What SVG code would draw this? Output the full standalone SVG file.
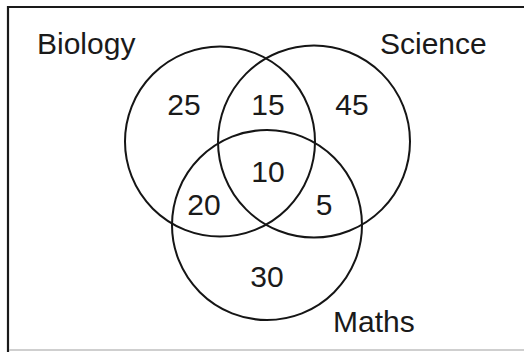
<svg xmlns="http://www.w3.org/2000/svg" width="524" height="352" viewBox="0 0 524 352">
<style>
.c{fill:none;stroke:#151515;stroke-width:2}
.t{font-family:"Liberation Sans",Arial,sans-serif;font-size:30px;fill:#1a1a1a}
.m{text-anchor:middle}
</style>
<rect width="524" height="352" fill="#fff"/>
<g id="frame">
<path d="M8,352 V7 H524" fill="none" stroke="#1a1a1a" stroke-width="2.2"/>
<line x1="9" y1="350" x2="524" y2="350" stroke="#cfcfcf" stroke-width="2"/>
</g>
<g id="biology"><circle class="c" cx="220" cy="141.5" r="95"/><text class="t" x="37" y="54">Biology</text></g>
<g id="science"><circle class="c" cx="314" cy="141.5" r="96"/><text class="t" x="380" y="54">Science</text></g>
<g id="maths"><circle class="c" cx="267" cy="225" r="95"/><text class="t" x="333" y="332">Maths</text></g>
<g id="values">
<text class="t m" x="184" y="115">25</text>
<text class="t m" x="268" y="115">15</text>
<text class="t m" x="352" y="115">45</text>
<text class="t m" x="268" y="182">10</text>
<text class="t m" x="204" y="215">20</text>
<text class="t m" x="324" y="215">5</text>
<text class="t m" x="267" y="287">30</text>
</g>
</svg>
